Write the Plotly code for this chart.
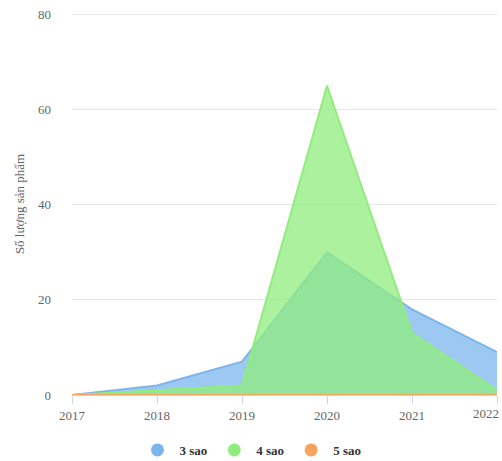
import plotly.graph_objects as go

years = [2017, 2018, 2019, 2020, 2021, 2022]
sao3 = [0, 2, 7, 30, 18, 9]
sao4 = [0, 1, 2, 65, 13, 1]
sao5 = [0, 0, 0, 0, 0, 0]
names = ["3 sao", "4 sao", "5 sao"]
colors = ["#7cb5ec", "#90ed7d", "#f7a35c"]
fills = ["rgba(124,181,236,0.75)", "rgba(144,237,125,0.75)", "rgba(247,163,92,0.75)"]
y_ticks = [0, 20, 40, 60, 80]

fig = go.Figure()
for name, vals, c, f in zip(names, [sao3, sao4, sao5], colors, fills):
    fig.add_trace(go.Scatter(x=years, y=vals, mode="lines", fill="tozeroy",
                             line=dict(color=c, width=2), fillcolor=f,
                             showlegend=False, hoverinfo="x+y", cliponaxis=False))
for name, c in zip(names, colors):
    fig.add_trace(go.Scatter(x=[None], y=[None], mode="markers", name=name,
                             marker=dict(color=c, size=13, symbol="circle")))

font = "Liberation Serif, Times New Roman, serif"
tick_text = [str(y) for y in years[:-1]] + [""]
fig.add_annotation(x=years[-1], y=0, xref="x", yref="y", text=str(years[-1]),
                   showarrow=False, xanchor="right", yanchor="top", xshift=4, yshift=-9,
                   font=dict(size=13, color="#666666", family=font))
fig.update_layout(
    width=502, height=461,
    margin=dict(l=72, r=5, t=13, b=66),
    plot_bgcolor="white", paper_bgcolor="white",
    font=dict(family=font, color="#666666", size=13),
    xaxis=dict(range=[2017, 2022], tickvals=years, ticktext=tick_text,
               showgrid=False, showline=True, linecolor="#ccd6eb", linewidth=1,
               ticks="outside", tickcolor="#ccd6eb", ticklen=8, automargin=False,
               tickfont=dict(size=13, color="#666666"), zeroline=False),
    yaxis=dict(range=[0, 80.3], tickvals=y_ticks, showgrid=True, gridcolor="#e6e6e6",
               zeroline=False, showline=False, ticks="", ticklabelstandoff=20,
               automargin=False, ticklabeloverflow="allow",
               tickfont=dict(size=13, color="#666666"),
               title=dict(text="Số lượng sản phẩm", font=dict(size=13, color="#666666"), standoff=10)),
    legend=dict(orientation="h", xref="container", yref="container",
                x=0.5, xanchor="center", y=0.024, yanchor="middle",
                font=dict(size=13, color="#333333", family=font, weight="bold"),
                itemwidth=34, tracegroupgap=0),
)
fig.write_html("out.html", config={"displayModeBar": False},
               post_script="document.body.style.margin='0';")
